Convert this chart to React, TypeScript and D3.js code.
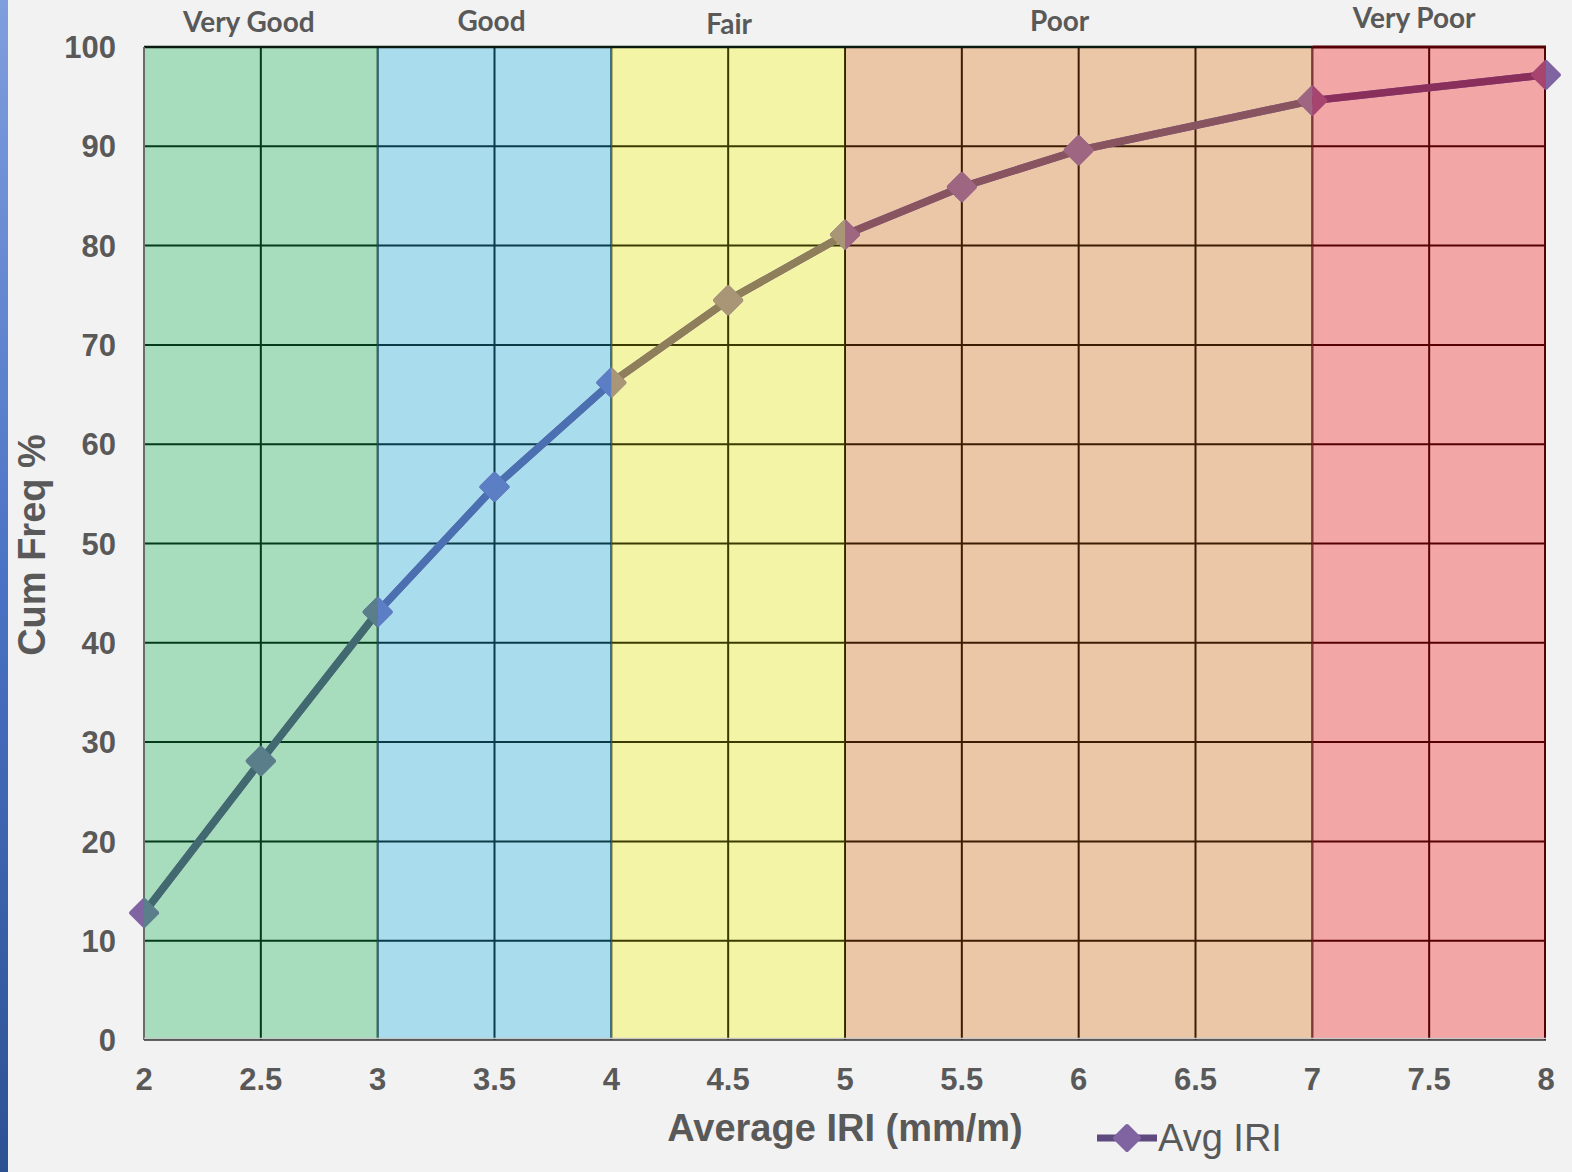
import React from "react";
import * as d3 from "d3";

// Cumulative frequency of average IRI
const iriValues = [2, 2.5, 3, 3.5, 4, 4.5, 5, 5.5, 6, 7, 8];
const cumFreq = [12.8, 28.1, 43.1, 55.7, 66.2, 74.5, 81.1, 85.9, 89.6, 94.6, 97.2];

const xTicks = [2, 2.5, 3, 3.5, 4, 4.5, 5, 5.5, 6, 6.5, 7, 7.5, 8];
const yTicks = [0, 10, 20, 30, 40, 50, 60, 70, 80, 90, 100];

// Condition classes
const bandNames = ["Very Good", "Good", "Fair", "Poor", "Very Poor"];
const bandFrom = [2, 3, 4, 5, 7];
const bandTo = [3, 4, 5, 7, 8];

const seriesName = "Avg IRI";

// Styling per class
const bandFill = ["#a7ddbd", "#a9ddee", "#f3f4a6", "#ebc7a7", "#f3a6a6"];
const bandGrid = ["#053a1c", "#0b3a48", "#3b3b00", "#3d1c04", "#560005"];
const bandLine = ["#416a70", "#4a70b2", "#8e7f5a", "#875460", "#8a2e5c"];
const bandMarker = ["#5a7f8b", "#5c7ec5", "#a89676", "#9e6680", "#a8456f"];
const labelY = [22, 21, 24, 21, 18];
const labelDx = [-12, -3, 1, -19, -15];

const W = 1572;
const H = 1172;
const M = { left: 144, right: 26, top: 47, bottom: 132 };

export default function App() {
  const x = d3.scaleLinear().domain([2, 8]).range([M.left, W - M.right]);
  const y = d3.scaleLinear().domain([0, 100]).range([H - M.bottom, M.top]);

  const pts: [number, number][] = iriValues.map((v, i) => [x(v), y(cumFreq[i])]);
  const lineGen = d3.line<[number, number]>().x((d) => d[0]).y((d) => d[1]);
  const linePath = lineGen(pts) || "";

  const diamond = (cx: number, cy: number, r: number) =>
    `M${cx},${cy - r}L${cx + r},${cy}L${cx},${cy + r}L${cx - r},${cy}Z`;
  const mr = 13;

  const textColor = "#595959";
  const font = "'Liberation Sans', Arial, sans-serif";

  return (
    <div style={{ position: "absolute", left: 0, top: 0 }}>
      <svg width={W} height={H} style={{ display: "block" }}>
        <defs>
          <linearGradient id="edge" x1="0" y1="0" x2="0" y2="1">
            <stop offset="0" stopColor="#7f9ede" />
            <stop offset="0.5" stopColor="#4a72c4" />
            <stop offset="1" stopColor="#2c5193" />
          </linearGradient>
          {bandNames.map((n, i) => (
            <clipPath id={`band${i}`} key={n}>
              <rect
                x={x(bandFrom[i])}
                y={0}
                width={x(bandTo[i]) - x(bandFrom[i])}
                height={H}
              />
            </clipPath>
          ))}
        </defs>
        <rect width={W} height={H} fill="#f2f2f2" />
        <rect x={0} y={0} width={8} height={H} fill="url(#edge)" />

        {/* band backgrounds and their grids */}
        {bandNames.map((n, i) => (
          <g key={n} clipPath={`url(#band${i})`}>
            <rect
              x={x(bandFrom[i])}
              y={y(100)}
              width={x(bandTo[i]) - x(bandFrom[i])}
              height={y(0) - y(100)}
              fill={bandFill[i]}
            />
            {yTicks.slice(1).map((t) => (
              <line
                key={t}
                x1={x(bandFrom[i])}
                x2={x(bandTo[i])}
                y1={y(t)}
                y2={y(t)}
                stroke={t === 100 && i < 4 ? "#111" : bandGrid[i]}
                strokeWidth={2}
              />
            ))}
            {xTicks
              .filter((t) => t >= bandFrom[i] && t <= bandTo[i] && t > 2)
              .map((t) => (
                <line
                  key={t}
                  x1={x(t)}
                  x2={x(t)}
                  y1={y(100)}
                  y2={y(0)}
                  stroke={bandGrid[i]}
                  strokeWidth={2}
                />
              ))}
          </g>
        ))}
        <line x1={x(7)} x2={x(8)} y1={y(100)} y2={y(100)} stroke={bandGrid[4]} strokeWidth={3} />
        <line x1={x(8) - 1} x2={x(8) - 1} y1={y(100)} y2={y(0)} stroke={bandGrid[4]} strokeWidth={2} />
        <line x1={x(2)} x2={x(7)} y1={y(100)} y2={y(100)} stroke="#0b1a10" strokeWidth={2.5} />

        {/* axes */}
        <line x1={x(2)} x2={x(2)} y1={y(100)} y2={y(0)} stroke="#6b6b6b" strokeWidth={2} />
        <line x1={x(2)} x2={x(8)} y1={y(0) - 1.5} y2={y(0) - 1.5} stroke="#c8c8c8" strokeWidth={1.5} />
        <line x1={x(2)} x2={x(8)} y1={y(0)} y2={y(0)} stroke="#333" strokeWidth={1.5} />

        {/* series: base marks, then recoloured per band */}
        <path d={linePath} fill="none" stroke="#7f5fa0" strokeWidth={7.5} />
        {pts.map(([px, py], i) => (
          <path key={i} d={diamond(px, py, mr)} fill="#8064a2" stroke="#8064a2" strokeWidth={4} strokeLinejoin="round" />
        ))}
        {bandNames.map((n, b) => (
          <g key={n} clipPath={`url(#band${b})`}>
            <path d={linePath} fill="none" stroke={bandLine[b]} strokeWidth={7.5} />
            {pts.map(([px, py], i) => (
              <path
                key={i}
                d={diamond(px, py, mr)}
                fill={bandMarker[b]}
                stroke={bandMarker[b]}
                strokeWidth={4}
                strokeLinejoin="round"
              />
            ))}
          </g>
        ))}

        {/* tick labels */}
        {yTicks.map((t) => (
          <text
            key={t}
            x={116}
            y={y(t)}
            dy="0.36em"
            textAnchor="end"
            fontFamily={font}
            fontWeight="bold"
            fontSize={31}
            fill={textColor}
          >
            {t}
          </text>
        ))}
        {xTicks.map((t) => (
          <text
            key={t}
            x={x(t)}
            y={1090}
            textAnchor="middle"
            fontFamily={font}
            fontWeight="bold"
            fontSize={31}
            fill={textColor}
          >
            {t}
          </text>
        ))}

        {/* axis titles */}
        <text
          x={845}
          y={1141}
          textAnchor="middle"
          fontFamily={font}
          fontWeight="bold"
          fontSize={38}
          fill={textColor}
        >
          Average IRI (mm/m)
        </text>
        <text
          transform={`translate(45,${545}) rotate(-90)`}
          textAnchor="middle"
          fontFamily={font}
          fontWeight="bold"
          fontSize={38}
          fill={textColor}
        >
          Cum Freq %
        </text>

        {/* band labels */}
        {bandNames.map((n, i) => (
          <text
            key={n}
            x={x((bandFrom[i] + bandTo[i]) / 2) + labelDx[i]}
            y={labelY[i]}
            dy="0.35em"
            textAnchor="middle"
            fontFamily="Lato, 'Open Sans', sans-serif"
            fontWeight="bold"
            fontSize={28}
            fill={textColor}
          >
            {n}
          </text>
        ))}

        {/* legend */}
        <g>
          <line x1={1097} x2={1157} y1={1138} y2={1138} stroke="#5f4a80" strokeWidth={7} />
          <path d={diamond(1127, 1138, 12)} fill="#8064a2" stroke="#8064a2" strokeWidth={4} strokeLinejoin="round" />
          <text x={1158} y={1151} fontFamily={font} fontSize={38} fill={textColor}>
            {seriesName}
          </text>
        </g>
      </svg>
    </div>
  );
}
